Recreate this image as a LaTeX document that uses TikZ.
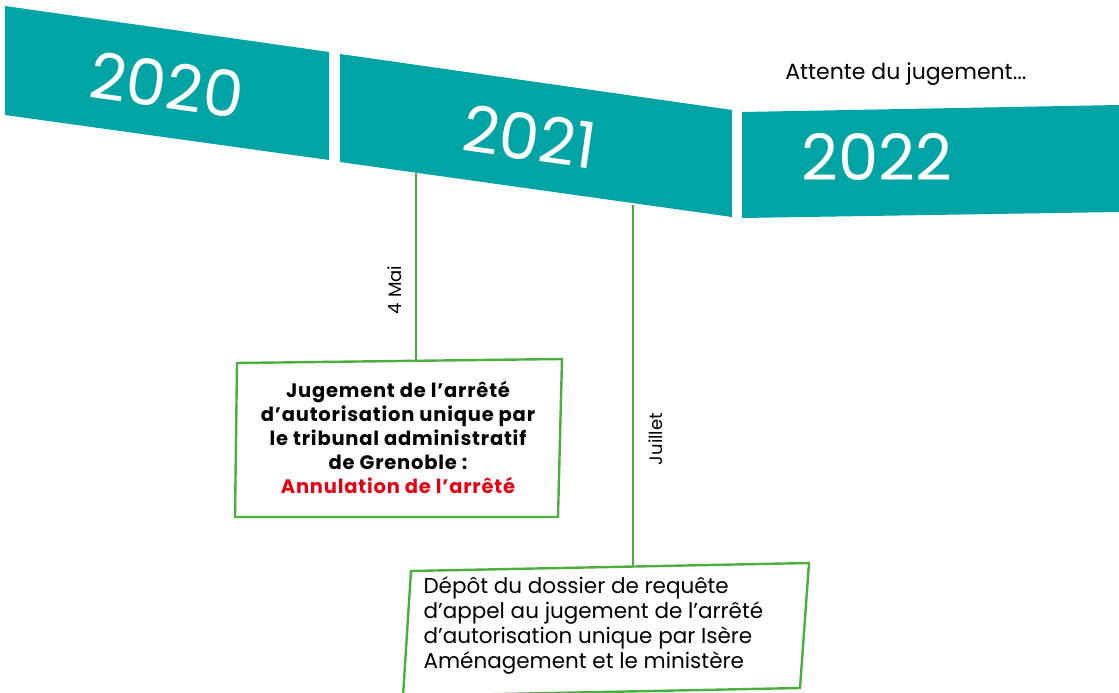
\documentclass[tikz,border=0pt]{standalone}
\usepackage{fontspec}
\setmainfont{Poppins}
\newfontfamily\yearfont{Poppins}
\definecolor{bandteal}{RGB}{0,164,164}
\definecolor{boxgreen}{RGB}{76,174,62}
\definecolor{annulred}{RGB}{228,0,20}
\begin{document}
\begin{tikzpicture}[x=1pt,y=-1pt,
    band/.style={fill=bandteal},
    year/.style={text=white,font=\yearfont\fontsize{64}{64}\selectfont},
    frame/.style={draw=boxgreen,line width=2.4pt,line join=miter},
    stem/.style={draw=boxgreen,line width=1.8pt},
    date/.style={rotate=90,font=\fontsize{18}{18}\selectfont}]
        \useasboundingbox (0,0) rectangle (1119,693);
        % bands
        \fill[band] (5,6) -- (329,52) -- (329,160) -- (5,115) -- cycle;
        \fill[band] (340,54) -- (732,110) -- (732,217) -- (340,162) -- cycle;
        \fill[band] (742,112) -- (1119,105) -- (1119,212) -- (742,218) -- cycle;
        \node[year,rotate=-8] (y2020) at (167,85) {2020};
        \node[year,rotate=-8] (y2021) at (530,137) {2021};
        \node[year] (y2022) at (877,157) {2022};
        \node[font=\fontsize{22}{22}\selectfont] (wait) at (906,74) {Attente du jugement...};
        % frames
        \draw[frame] (237,363) -- (562,359) -- (558,517) -- (235,517) -- cycle;
        \draw[frame] (411,571) -- (809,563) -- (800,688) -- (403,696) -- cycle;
        \node[align=center,font=\bfseries\fontsize{19.5}{24}\selectfont\addfontfeatures{LetterSpace=4}] (jug) at (398,437)
            {Jugement de l'arrêté\\d'autorisation unique par\\le tribunal administratif\\de Grenoble :\\\textcolor{annulred}{Annulation de l'arrêté}};
        \node[align=left,anchor=west,font=\fontsize{21.5}{25}\selectfont] (depot) at (420,625)
            {Dépôt du dossier de requête\\d'appel au jugement de l'arrêté\\d'autorisation unique par Isère\\Aménagement et le ministère};
        % stems
        \coordinate (mai) at (416,173);
        \coordinate (maibox) at (416,362);
        \coordinate (juil) at (633,205);
        \coordinate (juilbox) at (633,566);
        \draw[stem] (mai) -- (maibox);
        \draw[stem] (juil) -- (juilbox);
        \node[date] (maidate) at (395,290) {4 Mai};
        \node[date] (juildate) at (656,439) {Juillet};
      \end{tikzpicture}
\end{document}
